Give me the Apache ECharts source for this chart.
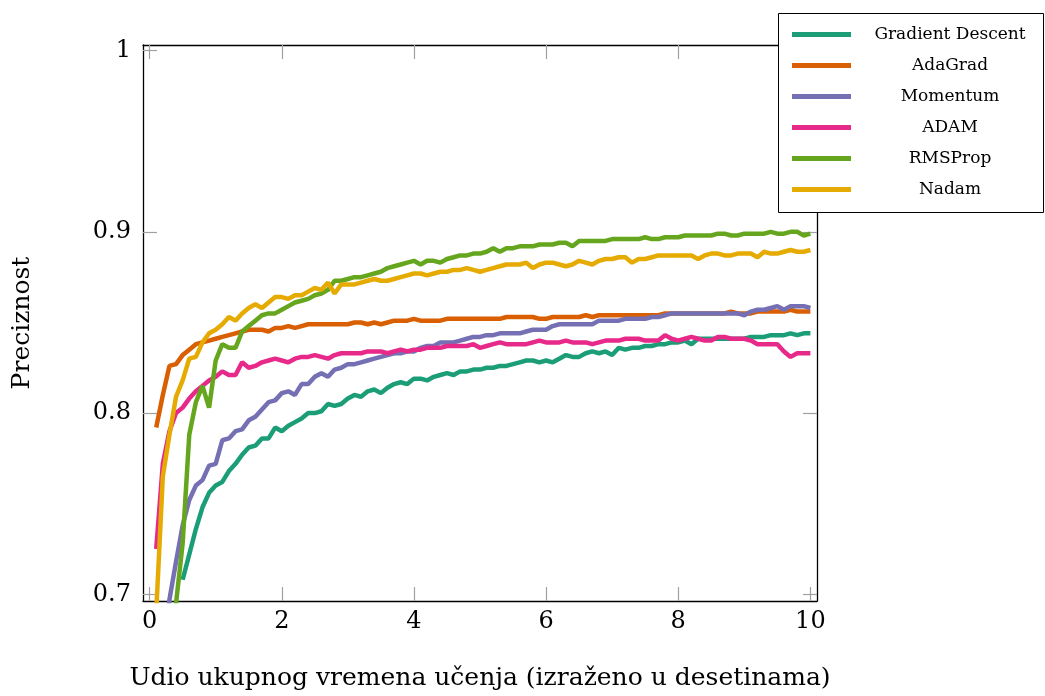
<!DOCTYPE html>
<html>
<head>
<meta charset="utf-8">
<script src="https://cdn.jsdelivr.net/npm/echarts@6/dist/echarts.min.js"></script>
<style>html,body{margin:0;padding:0;background:#fff}#c{width:1045px;height:696px}</style>
</head>
<body>
<div id="c"></div>
<script>
var xs = [0.1,0.2,0.3,0.4,0.5,0.6,0.7,0.8,0.9,1.0,1.1,1.2,1.3,1.4,1.5,1.6,1.7,1.8,1.9,2.0,2.1,2.2,2.3,2.4,2.5,2.6,2.7,2.8,2.9,3.0,3.1,3.2,3.3,3.4,3.5,3.6,3.7,3.8,3.9,4.0,4.1,4.2,4.3,4.4,4.5,4.6,4.7,4.8,4.9,5.0,5.1,5.2,5.3,5.4,5.5,5.6,5.7,5.8,5.9,6.0,6.1,6.2,6.3,6.4,6.5,6.6,6.7,6.8,6.9,7.0,7.1,7.2,7.3,7.4,7.5,7.6,7.7,7.8,7.9,8.0,8.1,8.2,8.3,8.4,8.5,8.6,8.7,8.8,8.9,9.0,9.1,9.2,9.3,9.4,9.5,9.6,9.7,9.8,9.9,10.0];

var seriesNames = ['Gradient Descent','AdaGrad','Momentum','ADAM','RMSProp','Nadam'];
var seriesColors = ['#1b9e77','#d95f02','#7570b3','#e7298a','#66a61e','#e6ab02'];

var gradientDescent = [null,null,null,null,0.708,0.722,0.736,0.748,0.756,0.760,
  0.762,0.768,0.772,0.777,0.781,0.782,0.786,0.786,0.792,0.790,
  0.793,0.795,0.797,0.800,0.800,0.801,0.805,0.804,0.805,0.808,
  0.810,0.809,0.812,0.813,0.811,0.814,0.816,0.817,0.816,0.819,
  0.819,0.818,0.820,0.821,0.822,0.821,0.823,0.823,0.824,0.824,
  0.825,0.825,0.826,0.826,0.827,0.828,0.829,0.829,0.828,0.829,
  0.828,0.830,0.832,0.831,0.831,0.833,0.834,0.833,0.834,0.832,
  0.836,0.835,0.836,0.836,0.837,0.837,0.838,0.838,0.839,0.839,
  0.840,0.838,0.841,0.841,0.841,0.841,0.841,0.841,0.841,0.841,
  0.842,0.842,0.842,0.843,0.843,0.843,0.844,0.843,0.844,0.844];

var adaGrad = [0.792,0.810,0.826,0.827,0.832,0.835,0.838,0.839,0.840,0.841,
  0.842,0.843,0.844,0.845,0.846,0.846,0.846,0.845,0.847,0.847,
  0.848,0.847,0.848,0.849,0.849,0.849,0.849,0.849,0.849,0.849,
  0.850,0.850,0.849,0.850,0.849,0.850,0.851,0.851,0.851,0.852,
  0.851,0.851,0.851,0.851,0.852,0.852,0.852,0.852,0.852,0.852,
  0.852,0.852,0.852,0.853,0.853,0.853,0.853,0.853,0.852,0.852,
  0.853,0.853,0.853,0.853,0.853,0.854,0.853,0.854,0.854,0.854,
  0.854,0.854,0.854,0.854,0.854,0.854,0.854,0.855,0.855,0.855,
  0.855,0.855,0.855,0.855,0.855,0.855,0.855,0.856,0.855,0.855,
  0.855,0.856,0.856,0.856,0.856,0.856,0.857,0.856,0.856,0.856];

var momentum = [0.600,0.650,0.697,0.718,0.738,0.752,0.760,0.763,0.771,0.772,
  0.785,0.786,0.790,0.791,0.796,0.798,0.802,0.806,0.807,0.811,
  0.812,0.810,0.816,0.816,0.820,0.822,0.820,0.824,0.825,0.827,
  0.827,0.828,0.829,0.830,0.831,0.832,0.833,0.833,0.834,0.834,
  0.836,0.837,0.837,0.839,0.839,0.839,0.840,0.841,0.842,0.842,
  0.843,0.843,0.844,0.844,0.844,0.844,0.845,0.846,0.846,0.846,
  0.848,0.849,0.849,0.849,0.849,0.849,0.849,0.851,0.851,0.851,
  0.851,0.852,0.852,0.852,0.852,0.853,0.853,0.854,0.855,0.855,
  0.855,0.855,0.855,0.855,0.855,0.855,0.855,0.855,0.855,0.854,
  0.856,0.857,0.857,0.858,0.859,0.857,0.859,0.859,0.859,0.858];

var adam = [0.725,0.772,0.790,0.800,0.803,0.808,0.812,0.815,0.818,0.820,
  0.823,0.821,0.821,0.828,0.825,0.826,0.828,0.829,0.830,0.829,
  0.828,0.830,0.831,0.831,0.832,0.831,0.830,0.832,0.833,0.833,
  0.833,0.833,0.834,0.834,0.834,0.833,0.834,0.835,0.834,0.835,
  0.835,0.836,0.836,0.836,0.837,0.837,0.837,0.837,0.838,0.836,
  0.837,0.838,0.839,0.838,0.838,0.838,0.838,0.839,0.840,0.839,
  0.839,0.839,0.840,0.839,0.839,0.839,0.838,0.839,0.840,0.840,
  0.840,0.841,0.841,0.841,0.840,0.840,0.840,0.843,0.841,0.840,
  0.841,0.842,0.841,0.840,0.840,0.842,0.842,0.841,0.841,0.841,
  0.840,0.838,0.838,0.838,0.838,0.834,0.831,0.833,0.833,0.833];

var rmsProp = [0.500,0.550,0.620,0.695,0.728,0.788,0.806,0.815,0.803,0.829,
  0.838,0.836,0.836,0.845,0.848,0.851,0.854,0.855,0.855,0.857,
  0.859,0.861,0.862,0.863,0.865,0.866,0.868,0.873,0.873,0.874,
  0.875,0.875,0.876,0.877,0.878,0.880,0.881,0.882,0.883,0.884,
  0.882,0.884,0.884,0.883,0.885,0.886,0.887,0.887,0.888,0.888,
  0.889,0.891,0.889,0.891,0.891,0.892,0.892,0.892,0.893,0.893,
  0.893,0.894,0.894,0.892,0.895,0.895,0.895,0.895,0.895,0.896,
  0.896,0.896,0.896,0.896,0.897,0.896,0.896,0.897,0.897,0.897,
  0.898,0.898,0.898,0.898,0.898,0.899,0.899,0.898,0.898,0.899,
  0.899,0.899,0.899,0.900,0.899,0.899,0.900,0.900,0.898,0.899];

var nadam = [0.690,0.765,0.788,0.809,0.818,0.830,0.831,0.839,0.844,0.846,
  0.849,0.853,0.851,0.855,0.858,0.860,0.858,0.861,0.864,0.864,
  0.863,0.865,0.865,0.867,0.869,0.868,0.872,0.866,0.871,0.871,
  0.871,0.872,0.873,0.874,0.873,0.873,0.874,0.875,0.876,0.877,
  0.877,0.876,0.877,0.878,0.878,0.879,0.879,0.880,0.879,0.878,
  0.879,0.880,0.881,0.882,0.882,0.882,0.883,0.880,0.882,0.883,
  0.883,0.882,0.881,0.882,0.884,0.883,0.882,0.884,0.885,0.885,
  0.886,0.886,0.883,0.885,0.885,0.886,0.887,0.887,0.887,0.887,
  0.887,0.887,0.885,0.887,0.888,0.888,0.887,0.887,0.888,0.888,
  0.888,0.886,0.889,0.888,0.888,0.889,0.890,0.889,0.889,0.890];

var xTicks = [0,2,4,6,8,10];
var yTicks = [0.7,0.8,0.9,1];
var xTitle = 'Udio ukupnog vremena učenja (izraženo u desetinama)';
var yTitle = 'Preciznost';

var allValues = [gradientDescent, adaGrad, momentum, adam, rmsProp, nadam];

var FONT = 'DejaVu Serif';
var chart = echarts.init(document.getElementById('c'), null, {renderer: 'canvas'});

function pairs(vals) {
  return xs.map(function (x, i) { return [x, vals[i] == null ? '-' : vals[i]]; });
}

var frameLine = {show: true, onZero: false, lineStyle: {color: '#000', width: 1.3}};
var tickStyle = {show: true, inside: true, length: 14, lineStyle: {color: '#a0a0a0', width: 1.2}};

var option = {
  animation: false,
  backgroundColor: '#fff',
  grid: {left: 143, top: 45, right: 228, bottom: 91, containLabel: false},
  graphic: [{
    type: 'rect', z: 90,
    shape: {x: 778.5, y: 13.5, width: 265, height: 199},
    style: {fill: '#fff', stroke: '#000', lineWidth: 1}
  }],
  legend: {
    orient: 'vertical',
    left: 778, top: 13, z: 100,
    padding: [13, 0, 15, 14],
    itemWidth: 59, itemHeight: 5, itemGap: 14,
    icon: 'rect',
    borderWidth: 0,
    data: seriesNames,
    formatter: function (n) { return '{c|' + n + '}'; },
    textStyle: {
      fontFamily: FONT, fontSize: 17, color: '#000',
      rich: {c: {width: 188, align: 'center', fontFamily: FONT, fontSize: 17, color: '#000'}}
    }
  },
  xAxis: [{
    type: 'value', min: -0.1, max: 10.1, position: 'bottom',
    axisLine: frameLine,
    axisTick: Object.assign({customValues: xTicks}, tickStyle),
    axisLabel: {customValues: xTicks, fontFamily: FONT, fontSize: 24, color: '#000', margin: 9},
    splitLine: {show: false},
    name: xTitle, nameLocation: 'middle', nameGap: 65,
    nameTextStyle: {fontFamily: FONT, fontSize: 25, color: '#000'}
  }, {
    type: 'value', min: -0.1, max: 10.1, position: 'top',
    axisLine: frameLine,
    axisTick: Object.assign({customValues: xTicks}, tickStyle),
    axisLabel: {show: false},
    splitLine: {show: false}
  }],
  yAxis: [{
    type: 'value', min: 0.6963, max: 1.0031, position: 'left',
    axisLine: frameLine,
    axisTick: Object.assign({customValues: yTicks}, tickStyle),
    axisLabel: {customValues: yTicks, fontFamily: FONT, fontSize: 24, color: '#000', margin: 12},
    splitLine: {show: false},
    name: yTitle, nameLocation: 'middle', nameGap: 108, nameRotate: 90,
    nameTextStyle: {fontFamily: FONT, fontSize: 25, color: '#000'}
  }, {
    type: 'value', min: 0.6963, max: 1.0031, position: 'right',
    axisLine: frameLine,
    axisTick: Object.assign({customValues: yTicks}, tickStyle),
    axisLabel: {show: false},
    splitLine: {show: false}
  }],
  series: seriesNames.map(function (n, i) {
    return {
      name: n, type: 'line', xAxisIndex: 0, yAxisIndex: 0,
      data: pairs(allValues[i]),
      showSymbol: false, symbol: 'none', clip: true,
      connectNulls: false,
      color: seriesColors[i],
      lineStyle: {width: 4.5, color: seriesColors[i]},
      emphasis: {disabled: true}
    };
  })
};
chart.setOption(option);
</script>
</body>
</html>
